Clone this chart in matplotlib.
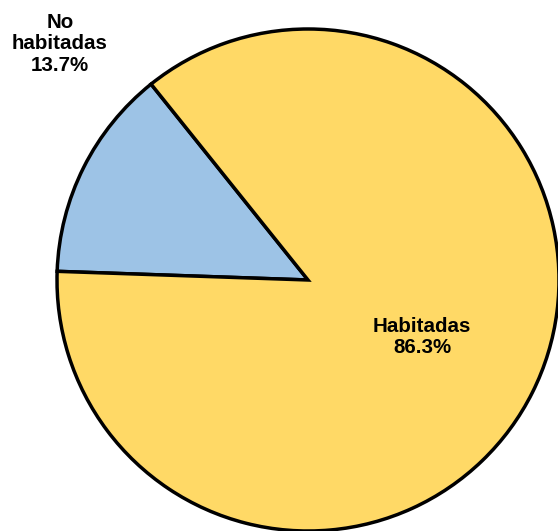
import matplotlib.pyplot as plt

labels = ['No\nhabitadas', 'Habitadas']
values = [13.7, 86.3]
colors = ['#9DC3E6', '#FFD966']

W, H = 558, 531
cx, cy, r = 308, 280, 251

fig = plt.figure(figsize=(W / 100, H / 100), dpi=100)
ax = fig.add_axes([0, 0, 1, 1])
ax.pie(values, colors=colors, startangle=128.7, counterclock=True,
       wedgeprops={'edgecolor': 'black', 'linewidth': 2.5})
ax.set_xlim(-cx / r, (W - cx) / r)
ax.set_ylim((cy - H) / r, cy / r)
ax.set_aspect('auto')
ax.axis('off')


def px(x, y):
    return (x - cx) / r, (cy - y) / r


label_pos = [(60, 44), (422, 337)]
for lab, v, (x, y) in zip(labels, values, label_pos):
    ax.text(*px(x, y), f'{lab}\n{v}%', ha='center', va='center',
            fontsize=14.8, fontweight='bold', family='Liberation Sans',
            linespacing=1.15)

fig.savefig('out.png', dpi=100)
